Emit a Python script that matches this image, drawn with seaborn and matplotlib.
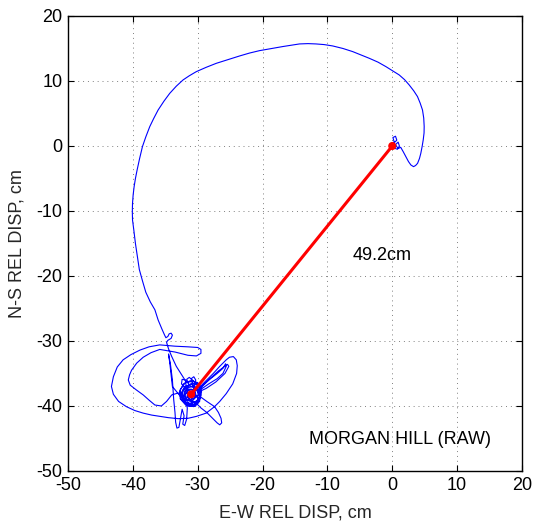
import matplotlib
matplotlib.use("Agg")
import matplotlib.pyplot as plt
import seaborn as sns
import pandas as pd

# ---------------- data (cm) ----------------
x_ticks = [-50, -40, -30, -20, -10, 0, 10, 20]
y_ticks = [-50, -40, -30, -20, -10, 0, 10, 20]

# ground-motion particle path, (E-W, N-S) in cm
trajectory_cm = [
    # start wiggle near origin
    (0.0, 0.0), (0.3, 0.6), (0.1, 1.3), (0.5, 1.5), (0.7, 0.9), (0.2, 0.4), (-0.3, 0.1),
    (0.2, -0.3), (0.8, -0.5), (1.1, 0.0), (0.9, 0.6), (0.5, 0.2), (0.9, -0.4), (1.3, -0.2),
    # dip and big arc
    (1.7, -0.9), (2.1, -1.64), (2.5, -2.4), (2.87, -2.92), (3.28, -3.18), (3.6, -3.0),
    (3.9, -2.67), (4.2, -1.9), (4.4, -1.13), (4.6, -0.1), (4.77, 0.92), (4.9, 2.0),
    (4.92, 3.0), (4.85, 4.3), (4.66, 5.54), (4.3, 6.6), (3.89, 7.6), (3.3, 8.5),
    (2.61, 9.39), (1.9, 10.2), (1.07, 10.93), (0.0, 11.6), (-0.98, 12.21), (-2.2, 12.9),
    (-3.54, 13.49), (-4.8, 14.0), (-6.1, 14.52), (-7.6, 15.0), (-9.18, 15.39), (-10.5, 15.6),
    (-11.75, 15.7), (-13.0, 15.75), (-14.31, 15.7), (-15.6, 15.5), (-16.87, 15.3),
    (-18.6, 15.0), (-20.46, 14.67), (-22.0, 14.3), (-23.54, 13.85), (-25.3, 13.3),
    (-27.13, 12.72), (-28.7, 12.1), (-30.21, 11.44), (-31.3, 10.8), (-32.26, 10.16),
    (-33.3, 9.2), (-34.31, 8.1), (-35.2, 6.9), (-36.1, 5.54), (-36.8, 4.2), (-37.39, 2.98),
    (-38.0, 1.4), (-38.52, -0.1), (-38.95, -1.9), (-39.34, -3.69), (-39.6, -5.0),
    (-39.8, -6.25), (-39.95, -7.5), (-40.05, -8.82), (-40.08, -10.1), (-40.05, -11.38),
    (-39.85, -12.92), (-39.6, -15.0), (-39.3, -17.0), (-39.0, -19.0), (-38.5, -20.8),
    (-38.0, -22.5), (-37.3, -24.0), (-36.6, -25.2), (-36.1, -26.77), (-35.5, -28.2),
    (-35.1, -29.1),
    # small ear
    (-34.9, -29.5), (-34.6, -29.3), (-34.4, -28.9), (-34.1, -28.8), (-33.9, -29.1),
    (-34.1, -29.6), (-34.6, -29.9), (-34.8, -30.2),
    # descent toward the cluster
    (-34.5, -31.2), (-34.0, -32.4), (-33.3, -33.9), (-32.6, -35.0), (-31.9, -36.1),
    (-31.5, -38.8),
    # cluster scribble 1
    (-30.4, -39.5), (-29.7, -38.6), (-29.9, -37.4), (-30.9, -36.7), (-32.0, -37.0),
    (-32.6, -38.1), (-32.2, -39.3), (-31.1, -39.9), (-30.0, -39.6), (-29.5, -38.4),
    (-29.8, -37.0), (-30.7, -36.2), (-31.9, -36.4), (-32.7, -37.5), (-32.7, -38.9),
    (-31.8, -39.9), (-30.6, -40.1), (-29.7, -39.3), (-29.6, -37.9), (-30.2, -37.3),
    # right petals
    (-29.2, -36.8), (-28.15, -35.9), (-27.0, -35.0), (-26.1, -34.2), (-25.7, -33.5),
    (-25.6, -33.9), (-26.1, -34.98), (-27.0, -35.8), (-28.3, -36.6), (-29.6, -37.5),
    (-29.3, -37.0), (-28.0, -35.7), (-26.8, -34.6), (-25.4, -33.6), (-25.2, -33.9),
    (-25.8, -35.0), (-27.2, -36.3), (-28.7, -37.3), (-30.0, -37.9),
    # lower right loop
    (-29.7, -38.5), (-28.6, -39.3), (-27.4, -40.1), (-26.8, -41.0), (-26.4, -41.9),
    (-26.3, -42.6), (-26.6, -42.9), (-27.0, -42.6), (-27.8, -41.8), (-28.6, -41.0),
    (-29.5, -40.3), (-30.2, -39.6),
    # vertical line on left of cluster and bottom petals
    (-31.4, -39.2), (-32.6, -38.6), (-33.9, -37.0), (-34.1, -35.2), (-34.3, -33.4),
    (-34.5, -32.0), (-34.2, -33.6), (-33.9, -36.0), (-33.7, -39.0), (-33.5, -41.0),
    (-33.4, -42.5), (-33.2, -43.4), (-32.9, -43.3), (-32.7, -42.2), (-32.4, -40.5),
    (-32.1, -41.5), (-32.3, -42.8), (-32.0, -43.0), (-31.7, -42.0), (-31.6, -40.3),
    (-32.0, -39.0), (-33.0, -38.0),
    # inner left loop
    (-34.0, -38.3), (-34.8, -39.3), (-35.6, -40.0), (-36.6, -39.85), (-37.5, -39.1),
    (-38.4, -38.3), (-39.5, -37.5), (-40.4, -36.8), (-40.7, -36.0), (-40.5, -35.2),
    (-40.2, -34.5), (-39.4, -33.4), (-38.4, -32.5), (-37.2, -31.8), (-35.85, -31.3),
    (-33.5, -31.7), (-31.5, -32.2), (-30.2, -32.3), (-29.5, -31.9),
    # tongue tip and outer left loop
    (-29.5, -31.3), (-30.0, -31.0), (-31.5, -30.9), (-33.5, -30.8), (-35.85, -30.6),
    (-37.5, -30.9), (-38.9, -31.4), (-40.3, -32.1), (-41.5, -32.9), (-42.4, -34.0),
    (-43.0, -35.5), (-43.3, -37.0), (-43.0, -38.2), (-42.2, -39.3), (-41.0, -40.1),
    (-39.7, -40.7), (-38.4, -41.1), (-37.1, -41.4), (-35.85, -41.6), (-34.5, -41.8),
    (-33.0, -41.95), (-31.5, -41.9), (-30.2, -41.6), (-28.7, -41.1),
    # outer right loop
    (-27.4, -40.1), (-26.6, -39.3), (-25.6, -38.1), (-24.6, -36.6), (-24.0, -35.0),
    (-23.9, -33.8), (-24.05, -32.9), (-24.5, -32.4), (-25.1, -32.5), (-25.6, -32.9),
    (-26.6, -33.9), (-27.6, -35.0), (-28.6, -36.0), (-29.6, -37.0),
    # cluster scribble 2 (top petals)
    (-30.8, -36.0), (-31.3, -35.6), (-31.7, -35.9), (-31.4, -36.6), (-31.9, -36.0),
    (-32.4, -35.9), (-32.5, -36.6), (-31.8, -37.3), (-30.6, -37.6), (-30.3, -36.0),
    (-30.6, -35.5), (-31.0, -35.8), (-30.8, -36.5), (-30.2, -38.5),
    # cluster scribble 3 (dense)
    (-30.8, -39.2), (-31.7, -39.0), (-31.9, -38.2), (-31.4, -37.6), (-30.7, -37.9),
    (-29.9, -38.9), (-30.3, -40.0), (-31.5, -40.0), (-32.4, -39.0), (-32.3, -37.6),
    (-31.3, -36.9), (-30.1, -37.3), (-29.6, -38.4), (-30.2, -39.4), (-31.4, -39.6),
    (-32.2, -38.6), (-31.9, -37.3), (-30.8, -37.0), (-29.9, -37.9), (-30.0, -39.1),
    (-31.0, -39.7), (-32.0, -39.4), (-32.5, -38.3), (-32.0, -37.1), (-30.9, -36.5),
    (-29.9, -36.8), (-29.4, -37.8), (-29.7, -39.0), (-30.6, -39.8), (-31.8, -39.8),
    (-32.6, -38.9), (-32.8, -37.8), (-32.2, -36.6), (-31.1, -36.1), (-30.0, -36.4),
    (-29.5, -37.3), (-29.8, -38.2), (-30.6, -38.9), (-31.6, -39.1), (-32.1, -38.4),
    (-31.8, -37.6), (-31.0, -37.4), (-30.4, -37.9), (-30.5, -38.7), (-31.2, -39.0),
    (-31.6, -38.5), (-31.3, -37.9), (-30.9, -38.0), (-30.8, -38.6), (-31.0, -38.2),
]
ew_disp = [p[0] for p in trajectory_cm]
ns_disp = [p[1] for p in trajectory_cm]

# final (permanent) offset vector
offset_ew = [0.0, -31.0]
offset_ns = [0.0, -38.2]
offset_label = "49.2cm"
station_label = "MORGAN HILL (RAW)"

# ---------------- plot ----------------
sns.set_theme(style="white")
plt.rcParams["font.family"] = ["Liberation Sans", "DejaVu Sans"]
plt.rcParams["font.size"] = 13

fig = plt.figure(figsize=(5.34, 5.26), dpi=100)
ax = fig.add_axes([0.1273, 0.1046, 0.8502, 0.865])

df_path = pd.DataFrame({"ew": ew_disp, "ns": ns_disp})
sns.lineplot(data=df_path, x="ew", y="ns", sort=False, estimator=None, color="#0000ff",
             linewidth=0.8, ax=ax)

df_off = pd.DataFrame({"ew": offset_ew, "ns": offset_ns})
sns.lineplot(data=df_off, x="ew", y="ns", sort=False, estimator=None, color="#ff0000",
             linewidth=2.2, ax=ax)
sns.scatterplot(data=df_off, x="ew", y="ns", color="#ff0000", s=34, edgecolor="none",
                ax=ax, zorder=5)

ax.text(-1.6, -16.9, offset_label, ha="center", va="center", fontsize=13, color="black")
ax.text(1.2, -45.2, station_label, ha="center", va="center", fontsize=13, color="black")

ax.set_xlim(-50, 20)
ax.set_ylim(-50, 20)
ax.set_xticks(x_ticks)
ax.set_yticks(y_ticks)
ax.set_xticklabels([str(v) for v in x_ticks])
ax.set_yticklabels([str(v) for v in y_ticks])

ax.grid(True, color="0.5", linestyle=(0, (1, 4)), linewidth=0.7)
ax.tick_params(direction="in", top=True, right=True, length=4, width=0.8,
               labelsize=13, colors="black", pad=4, bottom=True, left=True)
for s in ax.spines.values():
    s.set_color("black")
    s.set_linewidth(1.0)

ax.set_xlabel("E-W REL DISP, cm", fontsize=13, labelpad=8)
ax.set_ylabel("N-S REL DISP, cm", fontsize=13, labelpad=8)

fig.savefig("out.png", dpi=100)
